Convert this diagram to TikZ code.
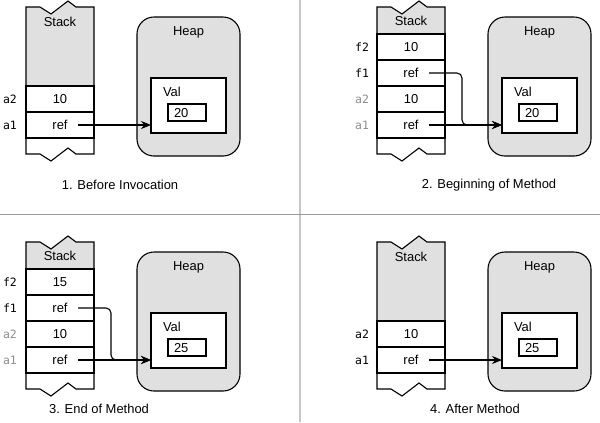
\documentclass[tikz,border=0pt]{standalone}
\usepackage{fontspec}
\setmainfont{Liberation Sans}
\setmonofont{DejaVu Sans Mono}
\usetikzlibrary{arrows.meta,calc,positioning}

\begin{document}
\begin{tikzpicture}[x=1bp, y=-1bp,
    every node/.style={inner sep=0pt, outer sep=0pt, font=\fontsize{13}{15}\selectfont},
    cell/.style={draw, line width=1.1bp, fill=white, minimum width=68bp, minimum height=26bp},
    torn/.style={draw, line width=1.1bp, fill=gray!24},
    edge/.style={draw, line width=1.1bp},
    heap/.style={draw, line width=1.1bp, fill=gray!24, rounded corners=17bp, minimum width=103bp, minimum height=139bp},
    valbox/.style={draw, line width=1.1bp, fill=white, minimum width=75bp, minimum height=55bp},
    numbox/.style={draw, line width=1.1bp, fill=white, minimum width=38bp, minimum height=17bp},
    varname/.style={font=\ttfamily\fontsize{11.5}{13}\selectfont},
    oldvar/.style={varname, text=black!45},
    refarrow/.style={-{Stealth[length=10bp, width=8bp]}, line width=1.1bp, rounded corners=5bp},
    divider/.style={draw=gray!45, line width=2bp}
]
\useasboundingbox (0,0) rectangle (600,422);

% dividers
\draw[divider] (300,0) -- (300,422);
\draw[divider, draw=gray!80, line width=1bp] (0,214.5) -- (600,214.5);

% 1. before invocation
\begin{scope}
\draw[torn] (26,86) -- (26,7) -- (40,7) -- (51,14) -- (68,1) -- (76,7) -- (94,7) -- (94,86) -- cycle;
\node (p1stack) at (60,22) {Stack};
\node[cell] (p1a2) at (60,99) {10};
\node[cell] (p1a1) at (60,125) {ref};
\draw[edge] (26,138) -- (26,154) -- (40,154) -- (51,161) -- (68,148) -- (76,154) -- (94,154) -- (94,138);
\node[varname] (p1la2) at (10,99) {a2};
\node[varname] (p1la1) at (10,125) {a1};
\node[heap] (p1heap) at (188.5,86.5) {};
\node (p1heaplbl) at (188.5,32) {Heap};
\node[valbox] (p1val) at (188.5,105.5) {};
\node[anchor=west] (p1vallbl) at (163,92) {Val};
\node[numbox] (p1num) at (187,112.5) {};
\node[anchor=west] (p1numtxt) at (174,113) {20};
\draw[refarrow] ([xshift=18bp]p1a1.center) -- (p1a1 -| p1val.west);
\node (p1cap) at (120,185) {1. Before Invocation};
\end{scope}

% 2. beginning of method
\begin{scope}[shift={(351,0)}]
\draw[torn] (26,34) -- (26,7) -- (40,7) -- (51,14) -- (68,1) -- (76,7) -- (94,7) -- (94,34) -- cycle;
\node (p2stack) at (60,21) {Stack};
\node[cell] (p2f2) at (60,47) {10};
\node[cell] (p2f1) at (60,73) {ref};
\node[cell] (p2a2) at (60,99) {10};
\node[cell] (p2a1) at (60,125) {ref};
\draw[edge] (26,138) -- (26,154) -- (40,154) -- (51,161) -- (68,148) -- (76,154) -- (94,154) -- (94,138);
\node[varname] (p2lf2) at (11,47) {f2};
\node[varname] (p2lf1) at (11,73) {f1};
\node[oldvar] (p2la2) at (11,99) {a2};
\node[oldvar] (p2la1) at (11,125) {a1};
\node[heap] (p2heap) at (188.5,86.5) {};
\node (p2heaplbl) at (188.5,32) {Heap};
\node[valbox] (p2val) at (188.5,105.5) {};
\node[anchor=west] (p2vallbl) at (163,92) {Val};
\node[numbox] (p2num) at (187,112.5) {};
\node[anchor=west] (p2numtxt) at (174,113) {20};
\draw[refarrow] ([xshift=18bp]p2f1.center) -- ++(33,0) |- (p2a1 -| p2val.west);
\draw[refarrow] ([xshift=18bp]p2a1.center) -- (p2a1 -| p2val.west);
\node (p2cap) at (138,185) {2. Beginning of Method};
\end{scope}

% 3. end of method
\begin{scope}[shift={(0,235)}]
\draw[torn] (26,34) -- (26,7) -- (40,7) -- (51,14) -- (68,1) -- (76,7) -- (94,7) -- (94,34) -- cycle;
\node (p3stack) at (60,21) {Stack};
\node[cell] (p3f2) at (60,47) {15};
\node[cell] (p3f1) at (60,73) {ref};
\node[cell] (p3a2) at (60,99) {10};
\node[cell] (p3a1) at (60,125) {ref};
\draw[edge] (26,138) -- (26,154) -- (40,154) -- (51,161) -- (68,148) -- (76,154) -- (94,154) -- (94,138);
\node[varname] (p3lf2) at (10,47) {f2};
\node[varname] (p3lf1) at (10,73) {f1};
\node[oldvar] (p3la2) at (10,99) {a2};
\node[oldvar] (p3la1) at (10,125) {a1};
\node[heap] (p3heap) at (188.5,86.5) {};
\node (p3heaplbl) at (188.5,32) {Heap};
\node[valbox] (p3val) at (188.5,105.5) {};
\node[anchor=west] (p3vallbl) at (163,92) {Val};
\node[numbox] (p3num) at (187,112.5) {};
\node[anchor=west] (p3numtxt) at (174,113) {25};
\draw[refarrow] ([xshift=18bp]p3f1.center) -- ++(33,0) |- (p3a1 -| p3val.west);
\draw[refarrow] ([xshift=18bp]p3a1.center) -- (p3a1 -| p3val.west);
\node (p3cap) at (99,174) {3. End of Method};
\end{scope}

% 4. after method
\begin{scope}[shift={(351,235)}]
\draw[torn] (26,86) -- (26,7) -- (40,7) -- (51,14) -- (68,1) -- (76,7) -- (94,7) -- (94,86) -- cycle;
\node (p4stack) at (60,22) {Stack};
\node[cell] (p4a2) at (60,99) {10};
\node[cell] (p4a1) at (60,125) {ref};
\draw[edge] (26,138) -- (26,154) -- (40,154) -- (51,161) -- (68,148) -- (76,154) -- (94,154) -- (94,138);
\node[varname] (p4la2) at (11,99) {a2};
\node[varname] (p4la1) at (11,125) {a1};
\node[heap] (p4heap) at (188.5,86.5) {};
\node (p4heaplbl) at (188.5,32) {Heap};
\node[valbox] (p4val) at (188.5,105.5) {};
\node[anchor=west] (p4vallbl) at (163,92) {Val};
\node[numbox] (p4num) at (187,112.5) {};
\node[anchor=west] (p4numtxt) at (174,113) {25};
\draw[refarrow] ([xshift=18bp]p4a1.center) -- (p4a1 -| p4val.west);
\node (p4cap) at (124,174) {4. After Method};
\end{scope}
\end{tikzpicture}
\end{document}
